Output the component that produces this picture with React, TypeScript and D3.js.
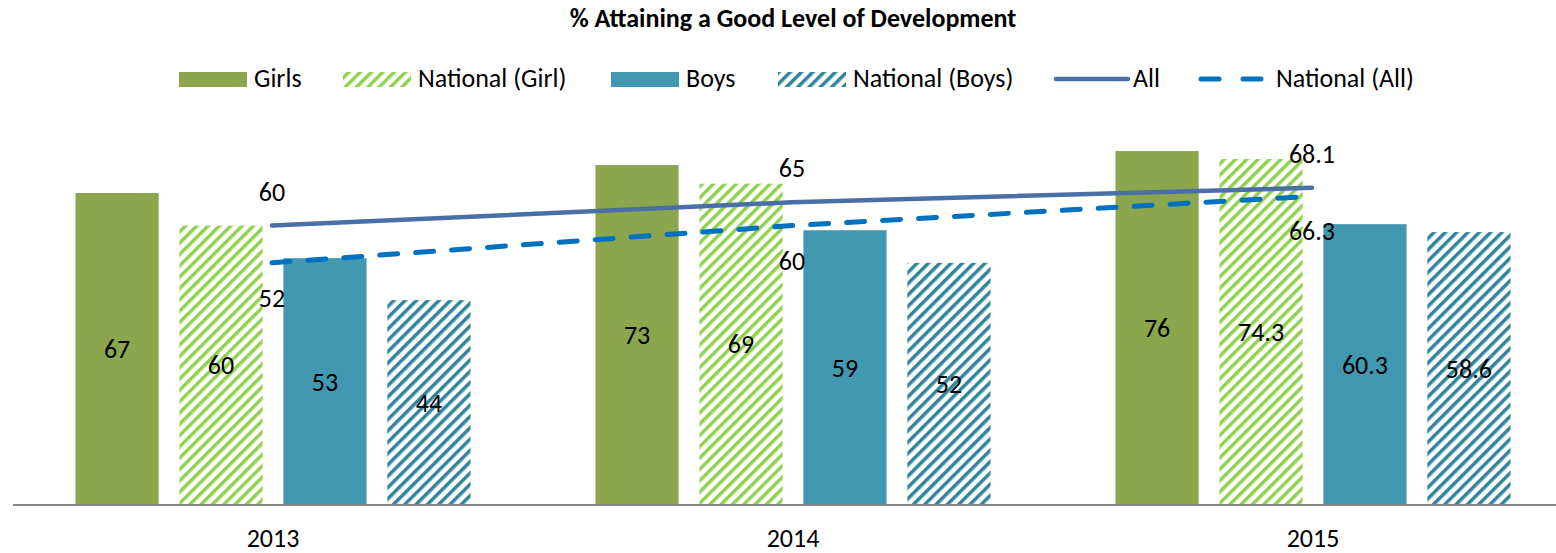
import React, { useEffect, useRef } from 'react';
import * as d3 from 'd3';

// chart data
const years = ['2013', '2014', '2015'];
const seriesNames = ['Girls', 'National (Girl)', 'Boys', 'National (Boys)'];
const girls = [67, 73, 76];
const nationalGirl = [60, 69, 74.3];
const boys = [53, 59, 60.3];
const nationalBoys = [44, 52, 58.6];
const allValues = [60, 65, 68.1];
const nationalAll = [52, 60, 66.3];

const FONT = "Carlito, Calibri, 'Liberation Sans', Arial, sans-serif";
const FS = 26;

const App: React.FC = () => {
    const svgRef = useRef<SVGSVGElement | null>(null);

    useEffect(() => {
        const svg = d3.select(svgRef.current);
        svg.selectAll('*').remove();

        const width = 1556;
        const baseY = 505;

        const defs = svg.append('defs');
        const makeHatch = (id: string, color: string) => {
            const p = defs.append('pattern')
                .attr('id', id)
                .attr('patternUnits', 'userSpaceOnUse')
                .attr('width', 8)
                .attr('height', 8)
                .attr('patternTransform', 'rotate(45)');
            p.append('rect').attr('width', 8).attr('height', 8).attr('fill', '#fff');
            p.append('rect').attr('x', 0).attr('y', 0).attr('width', 3.5).attr('height', 8).attr('fill', color);
        };
        makeHatch('hatchGreen', '#92D050');
        makeHatch('hatchTeal', '#31849B');

        const fills = ['#8BA64D', 'url(#hatchGreen)', '#4398B1', 'url(#hatchTeal)'];
        const seriesData = [girls, nationalGirl, boys, nationalBoys];

        const x0 = d3.scaleBand<string>().domain(years).range([13, 1573]);
        const x1 = d3.scaleBand<string>().domain(seriesNames).range([62.5, 457.5]).paddingInner(0.2);
        const y = d3.scaleLinear().domain([0, 80]).range([baseY, baseY - 80 * 4.657]);

        // title
        svg.append('text')
            .attr('x', 793).attr('y', 27)
            .attr('text-anchor', 'middle')
            .attr('font-family', FONT)
            .attr('font-weight', 'bold')
            .attr('font-size', FS)
            .text('% Attaining a Good Level of Development');

        // bars
        const groups = svg.append('g');
        years.forEach((yr, i) => {
            const g = groups.append('g').attr('transform', `translate(${x0(yr)},0)`);
            seriesNames.forEach((s, j) => {
                const v = seriesData[j][i];
                g.append('rect')
                    .attr('x', x1(s)!)
                    .attr('y', y(v))
                    .attr('width', x1.bandwidth())
                    .attr('height', baseY - y(v))
                    .attr('fill', fills[j]);
                g.append('text')
                    .attr('x', x1(s)! + x1.bandwidth() / 2)
                    .attr('y', (y(v) + baseY) / 2 + 9)
                    .attr('text-anchor', 'middle')
                    .attr('font-family', FONT)
                    .attr('font-size', FS)
                    .text(String(v));
            });
        });

        // axis
        svg.append('line')
            .attr('x1', 13).attr('x2', width)
            .attr('y1', baseY).attr('y2', baseY)
            .attr('stroke', '#868686').attr('stroke-width', 2);
        years.forEach(yr => {
            svg.append('text')
                .attr('x', x0(yr)! + x0.bandwidth() / 2)
                .attr('y', 547)
                .attr('text-anchor', 'middle')
                .attr('font-family', FONT)
                .attr('font-size', FS)
                .text(yr);
        });

        // lines
        const cx = (i: number) => x0(years[i])! + x0.bandwidth() / 2 - 1;
        const line = d3.line<number>().x((_, i) => cx(i)).y(d => y(d));

        svg.append('path')
            .datum(allValues)
            .attr('fill', 'none')
            .attr('stroke', '#4A6EA6')
            .attr('stroke-width', 4.5)
            .attr('stroke-linecap', 'round')
            .attr('d', line);
        svg.append('path')
            .datum(nationalAll)
            .attr('fill', 'none')
            .attr('stroke', '#0070C0')
            .attr('stroke-width', 5)
            .attr('stroke-linecap', 'round')
            .attr('stroke-dasharray', '18 18')
            .attr('d', line);

        allValues.forEach((v, i) => {
            svg.append('text')
                .attr('x', cx(i)).attr('y', y(v) - 25)
                .attr('text-anchor', 'middle')
                .attr('font-family', FONT).attr('font-size', FS)
                .text(String(v));
        });
        nationalAll.forEach((v, i) => {
            svg.append('text')
                .attr('x', cx(i)).attr('y', y(v) + 44)
                .attr('text-anchor', 'middle')
                .attr('font-family', FONT).attr('font-size', FS)
                .text(String(v));
        });

        // legend
        const legend = svg.append('g').attr('font-family', FONT).attr('font-size', FS);
        const legendItems = [
            { name: 'Girls', x: 179, kind: 'rect', fill: fills[0] },
            { name: 'National (Girl)', x: 343, kind: 'rect', fill: fills[1] },
            { name: 'Boys', x: 611, kind: 'rect', fill: fills[2] },
            { name: 'National (Boys)', x: 778, kind: 'rect', fill: fills[3] },
            { name: 'All', x: 1056, kind: 'line', fill: '#4A6EA6' },
            { name: 'National (All)', x: 1199, kind: 'dash', fill: '#0070C0' },
        ];
        legendItems.forEach(it => {
            if (it.kind === 'rect') {
                legend.append('rect')
                    .attr('x', it.x).attr('y', 72).attr('width', 68).attr('height', 15)
                    .attr('fill', it.fill);
                legend.append('text').attr('x', it.x + 75).attr('y', 87).text(it.name);
            } else if (it.kind === 'line') {
                legend.append('line')
                    .attr('x1', it.x).attr('x2', it.x + 72).attr('y1', 79).attr('y2', 79)
                    .attr('stroke', it.fill).attr('stroke-width', 4.5).attr('stroke-linecap', 'round');
                legend.append('text').attr('x', it.x + 77).attr('y', 87).text(it.name);
            } else {
                legend.append('line')
                    .attr('x1', it.x + 2).attr('x2', it.x + 66).attr('y1', 79).attr('y2', 79)
                    .attr('stroke', it.fill).attr('stroke-width', 5).attr('stroke-linecap', 'round')
                    .attr('stroke-dasharray', '18 24');
                legend.append('text').attr('x', it.x + 77).attr('y', 87).text(it.name);
            }
        });
    }, []);

    return (
        <svg ref={svgRef} width={1556} height={553}
            style={{ position: 'absolute', left: 0, top: 0, background: '#fff' }}></svg>
    );
};

export default App;
